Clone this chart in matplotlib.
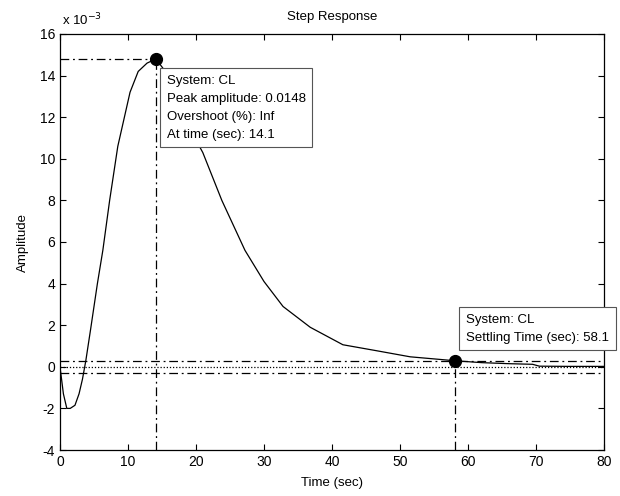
import matplotlib
matplotlib.use("Agg")
import matplotlib.pyplot as plt

plt.rcParams['font.family'] = ['Liberation Sans', 'DejaVu Sans']

# Step response (amplitude in units of 1e-3)
time = [0, 0.5, 1.0, 1.5, 2.2, 2.8, 3.3, 3.8, 4.5, 5.5, 6.3, 7.3, 8.5, 10.3, 11.5, 12.8, 14.1,
        15.5, 17, 19, 21, 23.8, 27.2, 30, 32.8, 36.8, 41.6, 46.6, 51.5, 55, 58.1, 62, 66, 69.5, 70.5, 75, 80]
amp = [0, -1.3, -2.0, -2.0, -1.85, -1.3, -0.6, 0.3, 1.8, 4.0, 5.6, 8.0, 10.6, 13.2, 14.2, 14.6, 14.8,
       14.2, 13.0, 11.5, 10.3, 8.0, 5.6, 4.1, 2.9, 1.9, 1.06, 0.77, 0.48, 0.38, 0.29, 0.2, 0.15, 0.12, 0.03, 0.02, 0.02]

peak_time = 14.1
peak_amp = 14.8
settle_time = 58.1
settle_amp = 0.29
band = 0.296

xticks = [0, 10, 20, 30, 40, 50, 60, 70, 80]
yticks = [-4, -2, 0, 2, 4, 6, 8, 10, 12, 14, 16]

fig = plt.figure(figsize=(6.2, 4.96), dpi=100)
ax = fig.add_axes([60/620, 46/496, 544/620, 416/496])

ax.plot(time, amp, color='black', lw=0.9)

dashdot = (0, (7, 3, 1.5, 3))
# settling band lines
ax.axhline(0, color='black', lw=0.9, ls=(0, (1, 1.5)))
ax.axhline(band, color='black', lw=0.9, ls=dashdot)
ax.axhline(-band, color='black', lw=0.9, ls=dashdot)

# characteristic point guide lines
ax.plot([0, peak_time], [peak_amp, peak_amp], color='black', lw=0.9, ls=dashdot)
ax.plot([peak_time, peak_time], [-4, peak_amp], color='black', lw=0.9, ls=dashdot)
ax.plot([settle_time, settle_time], [-4, settle_amp], color='black', lw=0.9, ls=dashdot)

ax.plot([peak_time], [peak_amp], 'o', color='black', ms=8.5)
ax.plot([settle_time], [settle_amp], 'o', color='black', ms=8.5)

ax.set_xlim(0, 80)
ax.set_ylim(-4, 16)
ax.set_xticks(xticks)
ax.set_yticks(yticks)
ax.set_xticklabels([str(v) for v in xticks])
ax.set_yticklabels([str(v) for v in yticks])
ax.tick_params(direction='in', top=True, right=True, length=4, labelsize=10, width=0.8)
for s in ax.spines.values():
    s.set_linewidth(0.9)

ax.set_xlabel('Time (sec)', fontsize=9.5, labelpad=6)
ax.set_ylabel('Amplitude', fontsize=9.5, labelpad=8)
ax.set_title('Step Response', fontsize=9.5, pad=10)
fig.text(62/620, 1 - 20/496, r'x 10$^{-3}$', fontsize=9.5, ha='left', va='center')

box = dict(boxstyle='square,pad=0.5', fc='white', ec='#555555', lw=0.8)
ax.text(15.7, 12.46, 'System: CL\nPeak amplitude: 0.0148\nOvershoot (%): Inf\nAt time (sec): 14.1',
        fontsize=9.5, va='center', ha='left', linespacing=1.67, bbox=box, zorder=5)
t2 = ax.text(59.7, 1.83, 'System: CL\nSettling Time (sec): 58.1',
             fontsize=9.5, va='center', ha='left', linespacing=1.67, bbox=box, zorder=5)
t2.set_clip_on(False)

fig.savefig('out.png', dpi=100)
